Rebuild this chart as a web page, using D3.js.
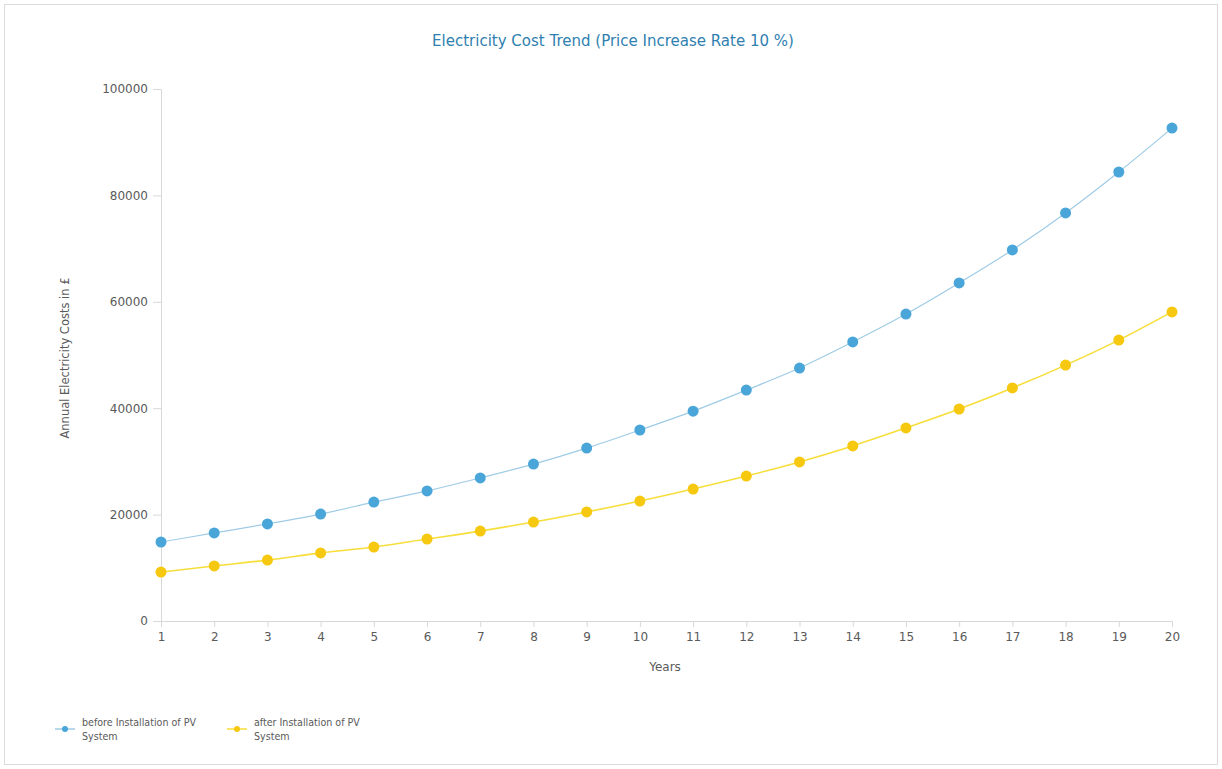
<!DOCTYPE html>
<html>
<head>
<meta charset="utf-8">
<script src="https://cdn.jsdelivr.net/npm/d3@7"></script>
<style>
  html, body { margin: 0; padding: 0; background: #fff; }
  svg { display: block; font-family: "DejaVu Sans", Verdana, sans-serif; }
</style>
</head>
<body>
<svg id="chart" width="1222" height="769"></svg>
<script>
// Years on the x axis
const years = [1,2,3,4,5,6,7,8,9,10,11,12,13,14,15,16,17,18,19,20];
// Annual electricity costs (£) before installation of the PV system
const costBefore = [14850,16550,18250,20100,22350,24450,26900,29500,32500,35900,
                    39450,43400,47550,52450,57700,63550,69750,76700,84400,92650];
// Annual electricity costs (£) after installation of the PV system
const costAfter = [9200,10350,11450,12800,13900,15400,16900,18600,20500,22550,
                   24800,27250,29900,32900,36300,39850,43800,48100,52800,58100];
const yTicks = [0,20000,40000,60000,80000,100000];
const seriesNames = ["before Installation of PV System", "after Installation of PV System"];
const seriesColors = ["#4aa6d9", "#f6c80f"];
const lineColors = ["#9fcbe6", "#f7de3a"];

const svg = d3.select("#chart");
const W = 1222, H = 769;
const FONT = "'DejaVu Sans', Verdana, sans-serif";
const FONT_C = "'DejaVu Sans Condensed', 'DejaVu Sans', sans-serif";
const TEXT_GRAY = "#5a5a5a";

// outer frame
svg.append("rect").attr("x", 4.5).attr("y", 4.5).attr("width", W - 9).attr("height", H - 9)
  .attr("fill", "none").attr("stroke", "#dcdcdc").attr("stroke-width", 1);

const plotLeft = 161, plotRight = 1172, plotTop = 89, plotBottom = 621;
const x = d3.scaleLinear().domain([1, 20]).range([plotLeft, plotRight]);
const y = d3.scaleLinear().domain([0, 100000]).range([plotBottom, plotTop]);

// title
svg.append("text").attr("x", 613).attr("y", 46).attr("text-anchor", "middle")
  .attr("font-size", 15).attr("fill", "#2f7fb0").attr("font-family", FONT)
  .text("Electricity Cost Trend (Price Increase Rate 10 %)");

// y axis
const yAxis = svg.append("g").attr("transform", `translate(${plotLeft},0)`)
  .call(d3.axisLeft(y).tickValues(yTicks).tickSize(8).tickPadding(5).tickFormat(d3.format("d")));
yAxis.select(".domain").attr("stroke", "#d8d8d8");
yAxis.selectAll(".tick line").attr("stroke", "#d8d8d8");
yAxis.selectAll(".tick text").attr("fill", TEXT_GRAY).attr("font-size", 12).attr("font-family", FONT);

// x axis
const xAxis = svg.append("g").attr("transform", `translate(0,${plotBottom})`)
  .call(d3.axisBottom(x).tickValues(years).tickSize(6).tickPadding(5).tickFormat(d3.format("d")));
xAxis.select(".domain").attr("stroke", "#d8d8d8");
xAxis.selectAll(".tick line").attr("stroke", "#d8d8d8");
xAxis.selectAll(".tick text").attr("fill", TEXT_GRAY).attr("font-size", 12).attr("font-family", FONT);

// axis titles
svg.append("text").attr("x", 665).attr("y", 671).attr("text-anchor", "middle")
  .attr("font-size", 12).attr("fill", TEXT_GRAY).attr("font-family", FONT)
  .text("Years");
svg.append("text").attr("transform", "translate(69,358) rotate(-90)").attr("text-anchor", "middle")
  .attr("font-size", 11.5).attr("fill", TEXT_GRAY).attr("font-family", FONT)
  .text("Annual Electricity Costs in £");

// series
const series = [costBefore, costAfter];
const line = d3.line().x((d, i) => x(years[i])).y(d => y(d)).curve(d3.curveMonotoneX);
series.forEach((vals, s) => {
  svg.append("path").datum(vals).attr("d", line).attr("fill", "none")
    .attr("stroke", lineColors[s]).attr("stroke-width", s === 0 ? 1.2 : 1.6);
  svg.append("g").selectAll("circle").data(vals).join("circle")
    .attr("cx", (d, i) => x(years[i])).attr("cy", d => y(d)).attr("r", 5.5)
    .attr("fill", seriesColors[s]);
});

// legend
const legendX = [55, 227];
seriesNames.forEach((name, s) => {
  const g = svg.append("g").attr("transform", `translate(${legendX[s]},729)`);
  g.append("line").attr("x1", 0).attr("x2", 20).attr("y1", 0).attr("y2", 0)
    .attr("stroke", lineColors[s]).attr("stroke-width", 1.5);
  g.append("circle").attr("cx", 10).attr("cy", 0).attr("r", 3).attr("fill", seriesColors[s]);
  const t = g.append("text").attr("x", 27).attr("y", -3).attr("font-size", 10.6).attr("fill", TEXT_GRAY)
    .attr("font-family", FONT_C);
  t.append("tspan").attr("x", 27).attr("dy", 0).text(name.replace(" System", ""));
  t.append("tspan").attr("x", 27).attr("dy", 14).text("System");
});
</script>
</body>
</html>
